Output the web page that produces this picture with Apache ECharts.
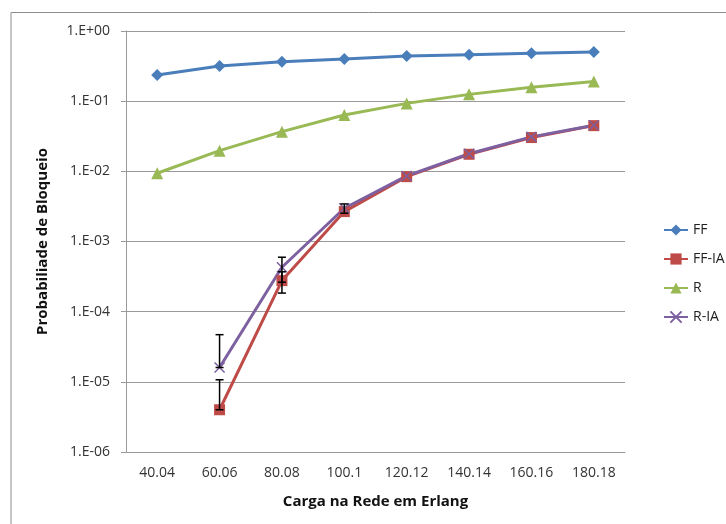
<!DOCTYPE html>
<html>
<head>
<meta charset="utf-8">
<script src="https://cdn.jsdelivr.net/npm/echarts@6/dist/echarts.min.js"></script>
<style>html,body{margin:0;padding:0;background:#fff;}#c{width:726px;height:524px;}</style>
</head>
<body>
<div id="c"></div>
<script>
const categories = ['40.04','60.06','80.08','100.1','120.12','140.14','160.16','180.18'];
const ffValues   = [0.236, 0.316, 0.366, 0.40, 0.44, 0.46, 0.48, 0.50];
const ffiaValues = [null, 4.0e-6, 2.77e-4, 2.67e-3, 8.4e-3, 0.0175, 0.0303, 0.0448];
const rValues    = [0.0094, 0.0197, 0.0368, 0.0636, 0.093, 0.125, 0.158, 0.19];
const riaValues  = [null, 1.6e-5, 4.3e-4, 2.98e-3, 8.6e-3, 0.0178, 0.031, 0.0455];
// error bars: category index, low, high
const errIndex = [1, 1, 2, 2, 3];
const errLow   = [4.0e-6, 1.6e-5, 1.84e-4, 2.63e-4, 2.53e-3];
const errHigh  = [1.07e-5, 4.7e-5, 3.7e-4, 5.97e-4, 3.43e-3];
const yTicks = ['1.E-06','1.E-05','1.E-04','1.E-03','1.E-02','1.E-01','1.E+00'];

const FONT = 'Open Sans';
const chart = echarts.init(document.getElementById('c'));
const errData = errIndex.map((c, i) => [c, errLow[i], errHigh[i]]);
const crossPath = 'path://M0,0 L10,10 M10,0 L0,10';

chart.setOption({
  animation: false,
  backgroundColor: '#fff',
  graphic: [{
    type: 'polyline', silent: true,
    shape: { points: [[11, 524], [11, 12.5], [726, 12.5]] },
    style: { stroke: '#8c8c8c', lineWidth: 1, fill: null }
  }],
  grid: { left: 126, right: 101, top: 31, bottom: 72 },
  legend: {
    orient: 'vertical', left: 658, top: 218, itemGap: 15, itemWidth: 24, itemHeight: 14,
    data: ['FF', 'FF-IA', 'R', 'R-IA'],
    textStyle: { fontFamily: FONT, fontSize: 14, color: '#222' }
  },
  xAxis: {
    type: 'category', data: categories, boundaryGap: true,
    name: 'Carga na Rede em Erlang', nameLocation: 'middle', nameGap: 42,
    nameTextStyle: { fontFamily: FONT, fontSize: 15, fontWeight: 'bold', color: '#111' },
    axisLine: { lineStyle: { color: '#9a9a9a', width: 1 } },
    axisTick: { show: false },
    axisLabel: { fontFamily: FONT, fontSize: 14, color: '#333', margin: 14, interval: 0 },
    splitLine: { show: false }
  },
  yAxis: {
    type: 'log', logBase: 10, min: 1e-6, max: 1,
    name: 'Probabiliade de Bloqueio', nameLocation: 'middle', nameGap: 76,
    nameTextStyle: { fontFamily: FONT, fontSize: 15, fontWeight: 'bold', color: '#111' },
    axisLine: { show: true, lineStyle: { color: '#9a9a9a', width: 1 } },
    axisTick: { show: true, length: 5, lineStyle: { color: '#9a9a9a' } },
    minorTick: { show: false },
    axisLabel: {
      fontFamily: FONT, fontSize: 14, color: '#333', margin: 16,
      formatter: v => {
        const e = Math.round(Math.log10(v));
        return yTicks[e + 6];
      }
    },
    splitLine: { show: true, lineStyle: { color: '#9a9a9a', width: 1 } }
  },
  series: [
    { name: 'FF', type: 'line', data: ffValues, symbol: 'diamond', symbolSize: 12,
      lineStyle: { color: '#4a7ebb', width: 3 }, itemStyle: { color: '#4a7ebb' } },
    { name: 'FF-IA', type: 'line', data: ffiaValues, symbol: 'rect', symbolSize: 11,
      lineStyle: { color: '#be4b48', width: 3 }, itemStyle: { color: '#be4b48' } },
    { name: 'R', type: 'line', data: rValues, symbol: 'triangle', symbolSize: 12,
      lineStyle: { color: '#98b954', width: 3 }, itemStyle: { color: '#98b954' } },
    { name: 'R-IA', type: 'line', data: riaValues, symbol: crossPath, symbolSize: 10,
      lineStyle: { color: '#7d60a0', width: 3 },
      itemStyle: { color: 'rgba(0,0,0,0)', borderColor: '#7d60a0', borderWidth: 1.5 } },
    { name: 'err', type: 'custom', data: errData, z: 10,
      encode: { x: 0, y: [1, 2] },
      renderItem: (params, api) => {
        const x = api.value(0);
        const lo = api.coord([x, api.value(1)]);
        const hi = api.coord([x, api.value(2)]);
        const w = 4;
        const st = { stroke: '#000', lineWidth: 1.5 };
        return { type: 'group', children: [
          { type: 'line', shape: { x1: lo[0], y1: lo[1], x2: hi[0], y2: hi[1] }, style: st },
          { type: 'line', shape: { x1: hi[0]-w, y1: hi[1], x2: hi[0]+w, y2: hi[1] }, style: st },
          { type: 'line', shape: { x1: lo[0]-w, y1: lo[1], x2: lo[0]+w, y2: lo[1] }, style: st }
        ]};
      }
    }
  ]
});
</script>
</body>
</html>
